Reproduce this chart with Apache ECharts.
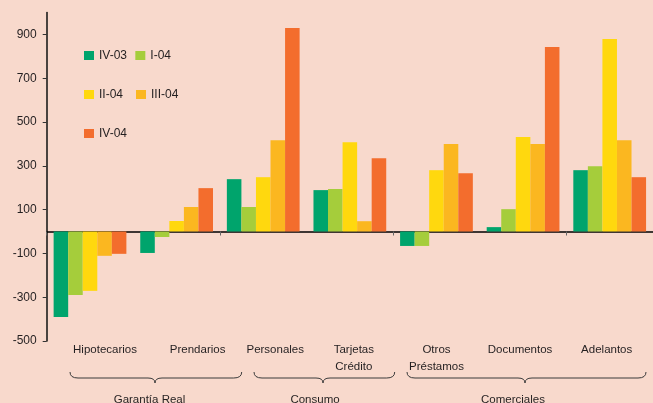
<!DOCTYPE html>
<html><head><meta charset="utf-8">
<script src="https://cdn.jsdelivr.net/npm/echarts@6/dist/echarts.min.js"></script>
<style>html,body{margin:0;padding:0;background:#F8D9CC}#c{width:653px;height:403px}</style>
</head><body><div id="c"></div>
<script>
const categories = ['Hipotecarios','Prendarios','Personales','Tarjetas\nCrédito','Otros\nPréstamos','Documentos','Adelantos'];
const seriesNames = ['IV-03','I-04','II-04','III-04','IV-04'];
const iv03  = [-390, -98, 239, 189, -66,  20, 280];
const i04   = [-290, -25, 112, 194, -66, 102, 298];
const ii04  = [-271,  48, 248, 408, 280, 431, 879];
const iii04 = [-111, 112, 417,  47, 399, 399, 417];
const iv04  = [-102, 198, 929, 335, 266, 842, 248];
const yTicks = [-500,-300,-100,100,300,500,700,900];
const groups = ['Garantía Real','Consumo','Comerciales'];

// styling / layout (not data)
const colors = ['#00A46C','#A5CD3B','#FFD80E','#FBB720','#F36D2D'];
const labelShift = [15,21,12,4,0,-3,-3];
const braces = [[70,241.7,155,149.5],[254,394.7,323,315],[407,646,525,513]];
const FONT = '"Liberation Sans",Arial,Helvetica,sans-serif';
const TXT = '#231f20';

const values = [iv03, i04, ii04, iii04, iv04];
const chart = echarts.init(document.getElementById('c'), null, {renderer:'canvas'});

const legendCommon = {
  orient:'horizontal', left:84, padding:0, itemWidth:10, itemHeight:9, icon:'rect',
  selectedMode:false, textStyle:{fontSize:12, fontFamily:FONT, color:TXT}
};

const lineStyle = {stroke:'#3a3a3a', lineWidth:1, fill:null};
function braceEls(x1,x2,xm){
  const yT=372, yL=378, yP=383;
  const q = (ax,ay,cx,cy,bx,by)=>({type:'bezierCurve', silent:true,
    shape:{x1:ax,y1:ay,cpx1:cx,cpy1:cy,x2:bx,y2:by}, style:lineStyle});
  const l = (ax,ay,bx,by)=>({type:'line', silent:true, shape:{x1:ax,y1:ay,x2:bx,y2:by}, style:lineStyle});
  return [
    q(x1,yT,x1,yL,x1+8,yL), l(x1+8,yL,xm-7,yL), q(xm-7,yL,xm,yL,xm,yP),
    q(xm,yP,xm,yL,xm+7,yL), l(xm+7,yL,x2-8,yL), q(x2-8,yL,x2,yL,x2,yT)
  ];
}
const graphics = [];
braces.forEach((b,i)=>{
  braceEls(b[0],b[1],b[2]).forEach(e=>graphics.push(e));
  graphics.push({type:'text', silent:true, x:b[3], y:400,
    style:{text:groups[i], fontSize:11.5, fontFamily:FONT, fill:TXT, align:'center', verticalAlign:'middle'}});
});

chart.setOption({
  animation:false,
  backgroundColor:'#F8D9CC',
  grid:{left:46.7, right:-3, top:12.5, bottom:62, containLabel:false},
  legend:[
    Object.assign({}, legendCommon, {data:['IV-03','I-04'], top:49.5, itemGap:8.3}),
    Object.assign({}, legendCommon, {data:['II-04','III-04'], top:88.5, itemGap:13}),
    Object.assign({}, legendCommon, {data:['IV-04'], top:127.5})
  ],
  xAxis:[
    {type:'category', data:categories, position:'bottom',
     axisLine:{show:true, onZero:true, lineStyle:{color:'#000', width:1.5}},
     axisTick:{show:true, length:4, lineStyle:{color:'#666', width:1}},
     axisLabel:{show:false}, splitLine:{show:false}},
    {type:'category', position:'bottom',
     data:categories.map((c,i)=>({value:c, textStyle:{padding: labelShift[i]>=0 ? [0,0,0,2*labelShift[i]] : [0,-2*labelShift[i],0,0]}})),
     axisLine:{show:false, onZero:false}, axisTick:{show:false},
     axisLabel:{show:true, interval:0, fontSize:11.5, fontFamily:FONT, color:TXT, lineHeight:16.5, margin:1},
     splitLine:{show:false}}
  ],
  yAxis:{type:'value', min:-500, max:1000,
    axisLine:{show:true, onZero:false, lineStyle:{color:'#111', width:1.5}},
    axisTick:{show:true, length:4, customValues:yTicks, lineStyle:{color:'#333'}},
    axisLabel:{customValues:yTicks, fontSize:12, fontFamily:FONT, color:TXT, margin:10},
    splitLine:{show:false}},
  series: seriesNames.map((n,i)=>({
    name:n, type:'bar', xAxisIndex:0, yAxisIndex:0, data:values[i],
    barGap:'0%', barCategoryGap:'16%', itemStyle:{color:colors[i]}
  })),
  graphic: graphics
});
</script></body></html>
